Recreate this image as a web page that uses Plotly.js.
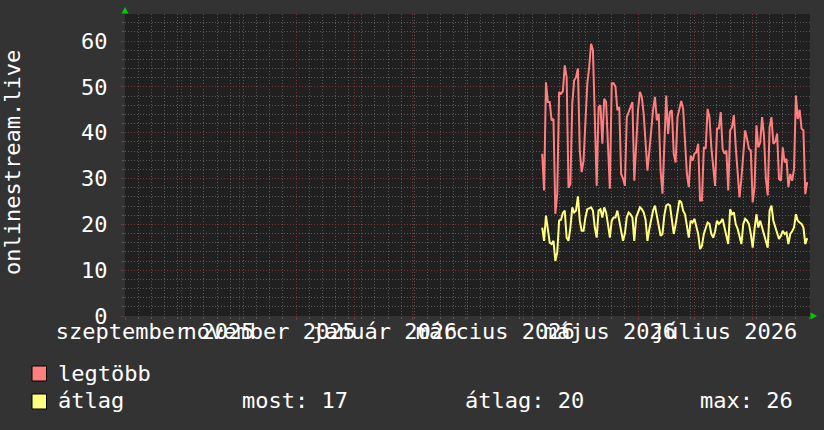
<!DOCTYPE html>
<html>
<head>
<meta charset="utf-8">
<script src="https://cdn.plot.ly/plotly-3.0.1.min.js"></script>
<style>
html,body{margin:0;padding:0;background:#333333;}
#chart{width:824px;height:430px;}
</style>
</head>
<body>
<div id="chart"></div>
<script>
// ---- data (daily values) ----
const startDate = '2026-04-11';
const legtobb = [
  35.4, 27.4, 51.0, 46.7, 46.7, 42.7, 43.0, 22.3, 26.7, 48.9,
  48.5, 49.0, 54.7, 52.1, 28.0, 28.8, 46.4, 51.4, 52.1, 54.0,
  36.0, 31.4, 33.9, 44.1, 50.7, 54.3, 59.4, 58.0, 40.5, 28.4,
  45.6, 46.0, 37.6, 47.4, 46.7, 38.0, 27.8, 50.8, 50.8, 50.0,
  44.9, 45.6, 31.0, 30.0, 28.4, 43.4, 44.5, 45.2, 46.7, 29.5,
  38.0, 45.0, 48.9, 47.8, 44.1, 38.0, 31.7, 36.0, 41.0, 45.0,
  47.8, 42.7, 44.1, 31.7, 26.7, 39.4, 48.1, 39.7, 44.5, 44.9,
  35.4, 33.5, 43.4, 45.2, 46.9, 45.2, 37.6, 31.0, 28.1, 35.0,
  33.9, 35.4, 35.7, 37.6, 25.2, 25.2, 36.8, 36.5, 45.2, 43.4,
  36.8, 33.2, 28.4, 40.9, 40.9, 44.5, 36.5, 35.4, 36.1, 27.4,
  40.5, 41.2, 43.8, 36.8, 30.0, 25.9, 30.0, 36.0, 40.5, 38.7,
  36.5, 36.1, 24.8, 28.1, 41.6, 36.8, 37.9, 43.4, 39.4, 30.0,
  26.3, 41.2, 43.4, 37.6, 38.0, 39.8, 29.9, 29.5, 36.8, 33.5,
  34.3, 28.1, 31.0, 29.5, 32.1, 48.1, 43.0, 45.0, 40.9, 40.5,
  26.6, 29.2
];
const atlag = [
  19.3, 16.4, 21.9, 18.6, 16.0, 15.7, 16.4, 12.0, 13.9, 20.8,
  21.0, 22.5, 23.0, 17.1, 16.4, 19.3, 23.7, 22.6, 23.0, 26.1,
  20.8, 18.6, 18.6, 21.5, 23.3, 23.5, 23.7, 23.0, 19.3, 17.1,
  23.0, 23.3, 21.5, 23.7, 22.6, 20.0, 17.1, 20.8, 21.5, 21.5,
  23.0, 20.8, 18.6, 16.4, 18.0, 21.5, 22.6, 22.2, 21.5, 16.4,
  21.5, 22.5, 23.7, 23.3, 22.6, 21.0, 16.4, 19.0, 21.5, 23.0,
  24.1, 21.9, 20.0, 17.5, 17.9, 22.0, 24.1, 24.4, 24.1, 20.8,
  17.9, 20.0, 22.2, 25.2, 24.8, 23.0, 22.2, 19.3, 17.1, 20.8,
  20.4, 21.2, 19.7, 17.9, 14.6, 15.3, 17.9, 19.3, 20.4, 20.1,
  17.9, 17.1, 18.5, 20.8, 20.1, 20.5, 21.2, 19.3, 17.1, 15.7,
  23.3, 22.2, 22.6, 20.0, 19.0, 17.5, 15.7, 20.1, 21.2, 20.8,
  20.1, 17.9, 14.9, 19.0, 22.2, 19.3, 20.8, 19.3, 17.9, 16.0,
  14.9, 23.0, 24.1, 20.8, 19.3, 18.2, 16.8, 17.5, 18.6, 17.9,
  18.2, 15.7, 17.9, 18.5, 19.3, 22.2, 20.8, 20.4, 20.1, 19.3,
  15.7, 17.0
];
const tickLabels = ['szeptember 2025', 'november 2025', 'január 2026', 'március 2026', 'május 2026', 'július 2026'];
const tickDates  = ['2025-09-17', '2025-11-17', '2026-01-17', '2026-03-17', '2026-05-17', '2026-07-17'];
const seriesNames = ['legtöbb', 'átlag'];
const seriesColors = ['#FF7F7F', '#FFFF7F'];
const yTitle = 'onlinestream.live';

// ---- build ----
const dates = [];
{
  const p = startDate.split('-').map(Number);
  for (let i = 0; i < legtobb.length; i++) {
    const d = new Date(Date.UTC(p[0], p[1] - 1, p[2] + i));
    dates.push(d.toISOString().slice(0, 10));
  }
}

const FONT = 'DejaVu Sans Mono, monospace';
const L = 125, R = 810, T = 14, B = 316;
const W = 824, H = 430;
const px = x => (x - L) / (R - L);
const py = y => (B - y) / (B - T);

const xRange = ['2025-09-01', '2026-08-31 12:00'];

const MINOR = 'rgba(95,95,95,0.9)';
const MAJOR = 'rgba(125,55,55,0.95)';
const DASH = '1px,2px';

const traces = [
  {x: dates, y: legtobb, type: 'scatter', mode: 'lines', name: seriesNames[0],
   line: {color: seriesColors[0], width: 2}, xaxis: 'x', yaxis: 'y', hoverinfo: 'skip'},
  {x: dates, y: atlag, type: 'scatter', mode: 'lines', name: seriesNames[1],
   line: {color: seriesColors[1], width: 2}, xaxis: 'x2', yaxis: 'y', hoverinfo: 'skip'}
];

const last = atlag[atlag.length - 1];
const avg = atlag.reduce((a, b) => a + b, 0) / atlag.length;
const mx = Math.max.apply(null, atlag);

const textFont = {family: FONT, size: 22, color: '#FFFFFF'};
const ann = (x, y, text) => ({xref: 'paper', yref: 'paper', x: px(x), y: py(y), text: text,
  showarrow: false, xanchor: 'left', yanchor: 'middle', font: textFont, borderpad: 0});

const annotations = [
  {xref: 'paper', yref: 'paper', x: px(12), y: py(163), text: yTitle, textangle: -90,
   showarrow: false, xanchor: 'center', yanchor: 'middle', font: textFont},
  ann(57, 373, seriesNames[0]),
  ann(57, 400, seriesNames[1]),
  ann(241, 400, 'most: ' + Math.round(last)),
  ann(464, 400, 'átlag: ' + Math.round(avg)),
  ann(699, 400, 'max: ' + Math.round(mx))
];

const sq = (y0, y1, c) => ({type: 'rect', xref: 'paper', yref: 'paper',
  x0: px(32), x1: px(46.5), y0: py(y1), y1: py(y0), fillcolor: c, line: {color: '#000000', width: 1}});
const shapes = [
  sq(366, 381, seriesColors[0]),
  sq(394, 409, seriesColors[1]),
  {type: 'path', xref: 'paper', yref: 'paper',
   path: 'M ' + px(121.5) + ' ' + py(13.5) + ' L ' + px(128.5) + ' ' + py(13.5) + ' L ' + px(125) + ' ' + py(7) + ' Z',
   fillcolor: '#00CC00', line: {width: 0}},
  {type: 'path', xref: 'paper', yref: 'paper',
   path: 'M ' + px(810.5) + ' ' + py(312.5) + ' L ' + px(810.5) + ' ' + py(319.5) + ' L ' + px(817) + ' ' + py(316) + ' Z',
   fillcolor: '#00CC00', line: {width: 0}}
];

const layout = {
  width: W, height: H, autosize: false,
  paper_bgcolor: '#333333', plot_bgcolor: '#202020',
  margin: {l: L, r: W - R, t: T, b: H - B, pad: 0},
  showlegend: false,
  font: textFont,
  xaxis: {
    type: 'date', range: xRange, tickmode: 'array', tickvals: tickDates, ticktext: tickLabels,
    showgrid: false, zeroline: false, showline: false, ticks: '',
    tickfont: textFont, tickangle: 0, fixedrange: true
  },
  xaxis2: {
    type: 'date', range: xRange, overlaying: 'x', anchor: 'y', side: 'bottom',
    tick0: '2025-09-01', dtick: 'M1', showticklabels: false,
    showgrid: true, gridcolor: MAJOR, griddash: DASH, gridwidth: 1,
    ticks: 'outside', ticklen: 3, tickcolor: MAJOR,
    minor: {tick0: '2025-09-01', dtick: 7 * 86400000, showgrid: true,
            gridcolor: MINOR, griddash: DASH, gridwidth: 1,
            ticks: 'outside', ticklen: 2, tickcolor: MINOR},
    zeroline: false, showline: false, fixedrange: true
  },
  yaxis: {
    range: [0, 65.9], tick0: 0, dtick: 10,
    showgrid: true, gridcolor: MAJOR, griddash: DASH, gridwidth: 1,
    minor: {dtick: 2, showgrid: true, gridcolor: MINOR, griddash: DASH, gridwidth: 1,
            ticks: 'outside', ticklen: 2, tickcolor: MINOR},
    ticks: 'outside', ticklen: 3, tickcolor: MAJOR,
    ticklabelstandoff: 9,
    zeroline: false, showline: false, tickfont: textFont, fixedrange: true
  },
  annotations: annotations,
  shapes: shapes
};

Plotly.newPlot('chart', traces, layout, {staticPlot: true, displayModeBar: false});
</script>
</body>
</html>
